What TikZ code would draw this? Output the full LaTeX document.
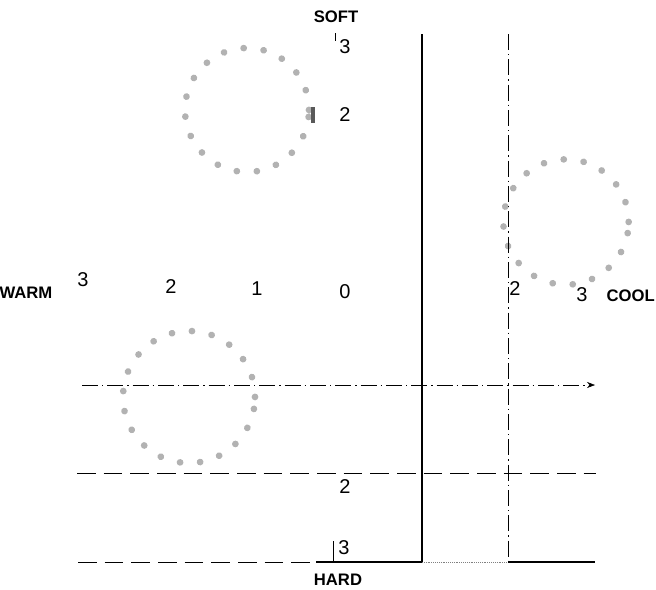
\documentclass[tikz,border=0pt]{standalone}
\usepackage{fontspec}
\setmainfont{Liberation Sans}
\usetikzlibrary{arrows.meta}

\begin{document}
\begin{tikzpicture}[x=0.75pt,y=-0.75pt,
    pole/.style={font=\bfseries\fontsize{12.5}{14}\selectfont,inner sep=0pt},
    grade/.style={font=\fontsize{15}{17}\selectfont,inner sep=0pt},
    ring/.style={gray!60,line width=5pt,line cap=round,dash pattern=on 0.1pt off 15pt},
    dashdot/.style={dash pattern=on 12pt off 3pt on 1pt off 3pt}]
    \useasboundingbox (0,0) rectangle (656,589);
    % poles
    \node[pole] (soft) at (336,17) {SOFT};
    \node[pole] (hard) at (338,580) {HARD};
    \node[pole] (warm) at (26,293) {WARM};
    \node[pole,anchor=east] (cool) at (655,296) {COOL};
    % grades
    \node[grade] (v3) at (345,47) {3};
    \node[grade] (v2) at (345,115) {2};
    \node[grade] (w3) at (83,280) {3};
    \node[grade] (w2) at (171,287) {2};
    \node[grade] (w1) at (257,289) {1};
    \node[grade] (o) at (345,292) {0};
    \node[grade] (c2) at (515,289) {2};
    \node[grade] (c3) at (582,295) {3};
    \node[grade] (h2) at (345,487) {2};
    \node[grade] (h3) at (344,548) {3};
    % circles
    \draw[ring] (247,110) circle [radius=46.5pt];
    \draw[ring] (566,222) circle [radius=47pt];
    \draw[ring] (189,397) circle [radius=49.5pt];
    % lines
    \coordinate (a) at (422,34);
    \coordinate (b) at (422,562);
    \coordinate (c) at (508,34);
    \coordinate (d) at (508,562);
    \coordinate (e) at (82,385);
    \coordinate (f) at (595,385);
    \coordinate (g) at (77,473);
    \coordinate (h) at (596,473);
    \coordinate (i) at (78,562);
    \coordinate (j) at (316,562);
    \coordinate (k) at (595,562);
    \draw[line width=0.9pt] (a) -- (b);
    \draw[dashdot] (c) -- (d);
    \draw[dashdot,-{Stealth[length=6pt]}] (e) -- (f);
    \draw[dash pattern=on 14pt off 6pt] (g) -- (h);
    \draw[dash pattern=on 14pt off 6pt] (i) -- (j);
    \draw[line width=0.9pt] (j) -- (b);
    \draw[densely dotted,gray] (b) -- (d);
    \draw[line width=0.9pt] (d) -- (k);
    \draw (333,541) -- (333,562);
    \draw (335,33) -- (335,41);
    \draw[line width=2.5pt,gray!70!black] (313,107) -- (313,123);
\end{tikzpicture}
\end{document}
